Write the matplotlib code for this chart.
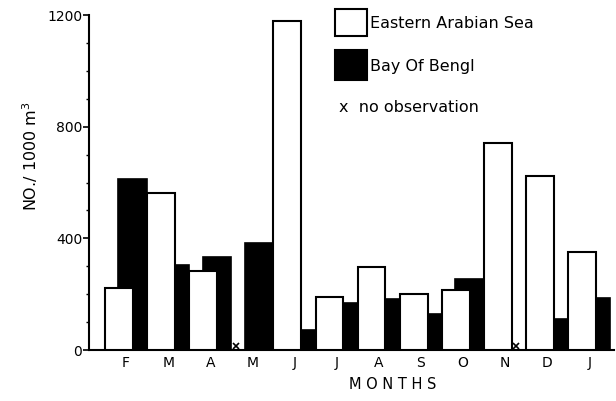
import matplotlib.pyplot as plt
import numpy as np

months = ["F", "M", "A", "M", "J", "J", "A", "S", "O", "N", "D", "J"]
arabian = [222, 562, 283, None, 1178, 190, 297, 200, 215, 741, 623, 351]
bengal = [612, 304, 333, 383, 72, 168, 183, 129, 254, None, 111, 186]

fig = plt.figure(figsize=(6.16, 4.01), dpi=100)
ax = fig.add_axes([0.1445, 0.127, 0.853, 0.8354])

x = np.arange(len(months))
for i in x:
    if bengal[i] is not None:
        ax.bar(i + 0.32, bengal[i], width=0.68, align="edge",
               color="black", edgecolor="black", linewidth=1.2, zorder=2)
    else:
        ax.plot(i + 0.76, 15, marker="x", color="black", ms=5, mew=1.2, zorder=4)
for i in x:
    if arabian[i] is not None:
        ax.bar(i, arabian[i], width=0.66, align="edge",
               color="white", edgecolor="black", linewidth=1.5, zorder=3)
    else:
        ax.plot(i + 0.1, 15, marker="x", color="black", ms=5, mew=1.2, zorder=4)

ax.set_xlim(-0.38, 12.1)
ax.set_ylim(0, 1200)
ax.set_yticks([0, 400, 800, 1200])
ax.set_yticks(np.arange(0, 1201, 100), minor=True)
ax.set_xticks(x + 0.5)
ax.set_xticklabels(months, fontsize=10)
ax.tick_params(axis="x", length=0, pad=4)
ax.tick_params(axis="y", which="major", length=4, width=1.2, labelsize=10, pad=1)
ax.tick_params(axis="y", which="minor", length=2, width=1)
ax.spines["top"].set_visible(False)
ax.spines["right"].set_visible(False)
ax.spines["left"].set_linewidth(1.5)
ax.spines["bottom"].set_linewidth(1.5)

ax.set_ylabel("NO./ 1000 m$^{3}$", fontsize=11.5)
ax.yaxis.set_label_coords(-0.093, 0.58)
fig.text(0.637, 0.04, "M O N T H S", ha="center", va="center", fontsize=10.5)

# legend drawn by hand like the original
fig.patches.append(plt.Rectangle((335 / 616, 1 - 36 / 401), 32 / 616, 27 / 401,
                                 transform=fig.transFigure, facecolor="white",
                                 edgecolor="black", linewidth=1.5))
fig.patches.append(plt.Rectangle((335 / 616, 1 - 80 / 401), 32 / 616, 30 / 401,
                                 transform=fig.transFigure, facecolor="black",
                                 edgecolor="black", linewidth=1.5))
fig.text(370 / 616, 1 - 24 / 401, "Eastern Arabian Sea", fontsize=11.5, va="center")
fig.text(370 / 616, 1 - 66 / 401, "Bay Of Bengl", fontsize=11.5, va="center")
fig.text(339 / 616, 1 - 108 / 401, "x  no observation", fontsize=11.5, va="center")

fig.savefig("out.png", dpi=100)
